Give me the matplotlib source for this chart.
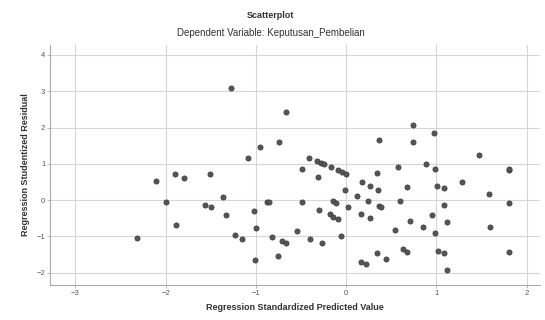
import matplotlib
matplotlib.use("Agg")
import matplotlib.pyplot as plt

# ------------------------------------------------------------
# Data (predicted value, studentized residual)
# ------------------------------------------------------------

predicted = [
    -1.28, -0.67, -0.95, -0.74, -1.09, -0.41, -0.49, -1.51, -1.90, -1.80,
    -2.11, -2.00, -1.36, -1.56, -1.50, -1.33, -1.88, -2.32, -1.23, -1.15,
    -1.02, -1.00, -1.01, -0.88, -0.85, -0.82, -0.71, -0.67, -0.75, -0.54,
    -0.49, -0.40, -0.27, -0.31, -0.32, -0.28, -0.25, -0.17, -0.09, -0.04,
    0.00, -0.30, -0.14, -0.11, -0.18, -0.14, -0.09, -0.06, -0.01, 0.02,
    0.12, 0.18, 0.26, 0.24, 0.17, 0.26, 0.34, 0.35, 0.36, 0.39,
    0.37, 0.34, 0.16, 0.22, 0.44, 0.54, 0.58, 0.60, 0.67, 0.71,
    0.63, 0.68, 0.74, 0.74, 0.85, 0.88, 0.95, 0.97, 0.99, 0.98,
    1.01, 1.08, 1.09, 1.12, 1.02, 1.09, 1.12, 1.29, 1.47, 1.58,
    1.60, 1.80, 1.81, 1.80, 1.81,
]

residual = [
    3.09, 2.43, 1.46, 1.59, 1.15, 1.17, 0.85, 0.71, 0.73, 0.61,
    0.54, -0.06, 0.09, -0.14, -0.20, -0.40, -0.68, -1.04, -0.96, -1.06,
    -0.31, -0.78, -1.65, -0.04, -0.06, -1.01, -1.12, -1.17, -1.53, -0.86,
    -0.04, -1.06, -1.18, 0.63, 1.07, 1.03, 0.99, 0.91, 0.83, 0.78,
    0.71, -0.26, -0.02, -0.07, -0.39, -0.46, -0.52, -0.98, 0.28, -0.20,
    0.12, 0.50, 0.40, -0.02, -0.38, -0.48, 0.76, 0.29, -0.17, -0.18,
    1.67, -1.45, -1.69, -1.76, -1.63, -0.82, 0.91, -0.01, 0.36, -0.58,
    -1.35, -1.43, 2.06, 1.60, -0.74, 0.99, -0.41, 1.86, 0.87, -0.90,
    0.39, 0.34, -0.14, -0.61, -1.40, -1.45, -1.93, 0.51, 1.25, 0.18,
    -0.74, 0.83, 0.85, -0.08, -1.43,
]

x_ticks = [-3, -2, -1, 0, 1, 2]
y_ticks = [-2, -1, 0, 1, 2, 3, 4]

title = "Scatterplot"
subtitle = "Dependent Variable: Keputusan_Pembelian"
x_label = "Regression Standardized Predicted Value"
y_label = "Regression Studentized Residual"


def main():
    plt.rcParams["font.family"] = ["Liberation Sans", "DejaVu Sans"]

    fig = plt.figure(figsize=(5.45, 3.2), dpi=100)
    ax = fig.add_axes([0.092, 0.109, 0.899, 0.75])

    ax.scatter(predicted, residual, s=14, c="#555555",
               edgecolors="#3a3a3a", linewidths=0.5, zorder=3)

    ax.set_xlim(-3.28, 2.15)
    ax.set_ylim(-2.34, 4.27)
    ax.set_xticks(x_ticks)
    ax.set_yticks(y_ticks)
    ax.grid(True, color="#d6d6d6", linewidth=0.8, zorder=0)
    ax.set_axisbelow(True)

    ax.tick_params(labelsize=5.5, labelcolor="#555555", color="#aaaaaa",
                   length=2, width=0.6, pad=1.5)
    for side in ("top", "right"):
        ax.spines[side].set_visible(False)
    for side in ("left", "bottom"):
        ax.spines[side].set_color("#aaaaaa")
        ax.spines[side].set_linewidth(0.8)

    ax.set_xlabel(x_label, fontsize=6.5, fontweight="bold", color="#333333",
                  labelpad=4)
    ax.set_ylabel(y_label, fontsize=6.5, fontweight="bold", color="#333333",
                  labelpad=5)

    fig.text(0.497, 0.953, title, ha="center", va="center", fontsize=6.5,
             fontweight="bold", color="#333333")
    fig.text(0.497, 0.897, subtitle, ha="center", va="center", fontsize=7,
             color="#333333")

    fig.savefig("out.png", dpi=100)


if __name__ == "__main__":
    main()
